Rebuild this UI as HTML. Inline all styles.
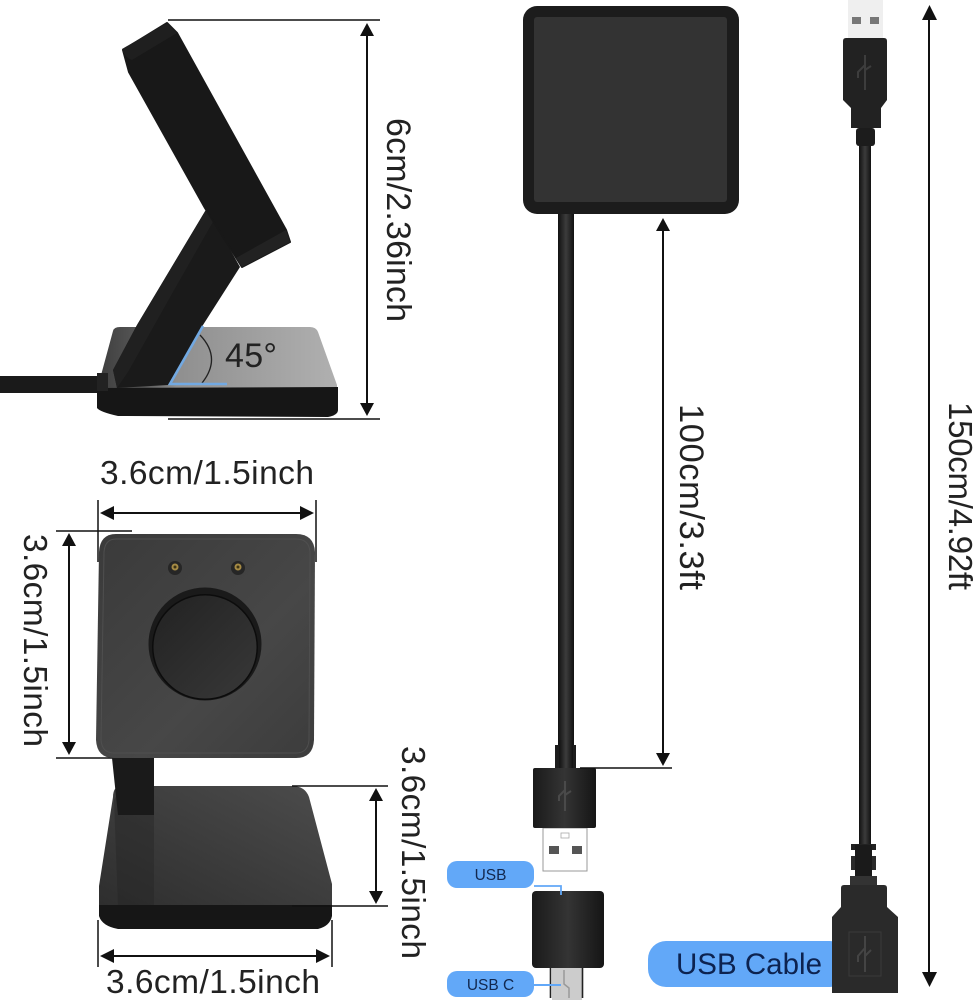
<!DOCTYPE html>
<html><head><meta charset="utf-8"><style>
html,body{margin:0;padding:0;background:#fff}
svg{display:block}
text{font-family:"Liberation Sans",sans-serif;fill:#222}
</style></head><body>
<svg width="979" height="1000" viewBox="0 0 979 1000" xmlns="http://www.w3.org/2000/svg">
<defs>
<linearGradient id="gb" x1="0" x2="1" y1="0" y2="0"><stop offset="0" stop-color="#3d3d3d"/><stop offset=".2" stop-color="#5a5a5a"/><stop offset=".33" stop-color="#8f8f8f"/><stop offset="1" stop-color="#b0b0b0"/></linearGradient>
<linearGradient id="pn" x1="0" x2="1" y1="0" y2="1"><stop offset="0" stop-color="#3a3a3a"/><stop offset=".6" stop-color="#474747"/><stop offset="1" stop-color="#3c3c3c"/></linearGradient>
<linearGradient id="bs" x1="0" x2="1" y1="1" y2="0"><stop offset="0" stop-color="#2e2e2e"/><stop offset="1" stop-color="#4c4c4c"/></linearGradient>
<linearGradient id="cb" x1="0" x2="1" y1="0" y2="0"><stop offset="0" stop-color="#111"/><stop offset=".5" stop-color="#3c3c3c"/><stop offset="1" stop-color="#111"/></linearGradient>
<linearGradient id="pl" x1="0" x2="1" y1="0" y2="0"><stop offset="0" stop-color="#1a1a1a"/><stop offset=".5" stop-color="#343434"/><stop offset="1" stop-color="#151515"/></linearGradient>
<linearGradient id="cir" x1="0" x2="1" y1="0" y2="1"><stop offset="0" stop-color="#222"/><stop offset="1" stop-color="#383838"/></linearGradient>
</defs>

<!-- SIDE VIEW -->
<rect x="0" y="376" width="102" height="17" fill="#1a1a1a"/>
<path d="M113 331Q114 327 120 327H310Q316 327 318 332L337 385V390H97Z" fill="url(#gb)"/>
<path d="M97 388L338 387V410Q338 415 328 417L118 416Q100 412 97 408Z" fill="#161616"/>
<rect x="97" y="373" width="11" height="18" fill="#222"/>
<path d="M207 208L240 267L203 325L168 385L117 388L113 370L137 325Z" fill="#1a1a1a"/>
<path d="M207 208L214 220L173 292L128 372L117 388L113 370L137 325Z" fill="#202020"/>
<path d="M123 50L129 72L205 208L242 267L290 242L286 230L177 33L167 23Z" fill="#181818" stroke="#181818" stroke-width="2" stroke-linejoin="round"/>
<path d="M122 49L167 23L177 33L132 60Q125 58 122 49Z" fill="#1f1f1f"/>
<path d="M236 258L286 230L290 242L242 267Z" fill="#222"/>
<path d="M200 335Q222 358 202 383" fill="none" stroke="#222" stroke-width="1.3"/>
<path d="M203 326L170 384H227" fill="none" stroke="#72a9e2" stroke-width="2.6"/>
<text x="225" y="367" font-size="34" textLength="52">45°</text>
<g stroke="#111" stroke-width="1.5" fill="none"><path d="M168 20H380M168 419H380"/></g>
<path d="M367 30V410" stroke="#111" stroke-width="2"/>
<path d="M367 23L374 36H360ZM367 416L374 403H360Z" fill="#111"/>
<text transform="translate(387 118) rotate(90)" font-size="34" textLength="204">6cm/2.36inch</text>

<!-- FRONT VIEW -->
<text x="100" y="484" font-size="33.500" textLength="214">3.6cm/1.5inch</text>
<path d="M98 500V562M316 500V562M56 531H132M56 758H120" stroke="#111" stroke-width="1.5" fill="none"/>
<path d="M106 513H310" stroke="#111" stroke-width="2"/>
<path d="M100 513L114 506V520ZM314 513L300 506V520Z" fill="#111"/>
<path d="M69 540V750" stroke="#111" stroke-width="2"/>
<path d="M69 533L76 546H62ZM69 755L76 742H62Z" fill="#111"/>
<text transform="translate(24 534) rotate(90)" font-size="33.500" textLength="213">3.6cm/1.5inch</text>

<path d="M113 797Q113 786 122 786H292Q305 786 309 797L332 884V905H99V886Z" fill="url(#bs)"/>
<path d="M120 790H154V906H118L114 800Z" fill="#222" opacity=".4"/>
<path d="M112 758H154V815H118Z" fill="#1a1a1a"/>
<path d="M99 905H332V916Q330 926 318 929H118Q102 926 99 916Z" fill="#161616"/>
<path d="M116 534H296Q314 534 315 552L314 740Q313 758 296 758H114Q97 758 96 740L99 552Q100 534 116 534Z" fill="url(#pn)"/>
<path d="M116 539H296Q309 539 310 552L309 740Q308 753 296 753H114Q102 753 101 740L104 552Q105 539 116 539Z" fill="none" stroke="#4f4f4f" stroke-width="1"/>
<circle cx="205" cy="644" r="56.500" fill="#1a1a1a"/>
<circle cx="205" cy="647" r="53" fill="#0c0c0c"/>
<circle cx="205" cy="647" r="51.500" fill="url(#cir)"/>
<circle cx="175" cy="568" r="7" fill="#262626"/><circle cx="175" cy="567" r="3.500" fill="#a68b45"/><circle cx="175" cy="567" r="1.500" fill="#3d3315"/>
<circle cx="238" cy="568" r="7" fill="#262626"/><circle cx="238" cy="567" r="3.500" fill="#a68b45"/><circle cx="238" cy="567" r="1.500" fill="#3d3315"/>

<path d="M292 786H388M292 906H388M98 920V967M332 920V967" stroke="#111" stroke-width="1.5" fill="none"/>
<path d="M376 795V898" stroke="#111" stroke-width="2"/>
<path d="M376 788L383 801H369ZM376 904L383 891H369Z" fill="#111"/>
<text transform="translate(402 746) rotate(90)" font-size="33.500" textLength="213">3.6cm/1.5inch</text>
<path d="M106 956H324" stroke="#111" stroke-width="2"/>
<path d="M100 956L114 949V963ZM330 956L316 949V963Z" fill="#111"/>
<text x="106" y="993" font-size="33.500" textLength="214">3.6cm/1.5inch</text>

<!-- SQUARE + SHORT CABLE -->
<rect x="558" y="210" width="16" height="540" fill="url(#cb)"/>
<rect x="523" y="6" width="216" height="208" rx="14" fill="#1c1c1c"/>
<rect x="534" y="17" width="193" height="185" rx="3" fill="#333"/>
<rect x="555" y="745" width="21" height="24" fill="#1c1c1c"/>
<rect x="559" y="740" width="14" height="28" fill="url(#cb)"/>
<path d="M543 828H587V871H543Z" fill="#fff" stroke="#999" stroke-width="1"/>
<rect x="561" y="833" width="8" height="5" fill="#fff" stroke="#aaa" stroke-width=".8"/>
<rect x="549" y="846" width="10" height="8" fill="#555"/><rect x="572" y="846" width="10" height="8" fill="#555"/>
<rect x="533" y="768" width="63" height="60" rx="2" fill="url(#pl)"/>
<path d="M565 781V811M565 790L559 796V801M565 795L571 791" stroke="#4a4a4a" stroke-width="2" fill="none"/>
<path d="M580 768H672" stroke="#111" stroke-width="1.5"/>
<path d="M663 224V760" stroke="#111" stroke-width="2"/>
<path d="M663 218L670 231H656ZM663 766L670 753H656Z" fill="#111"/>
<text transform="translate(680 404) rotate(90)" font-size="34.500" textLength="186">100cm/3.3ft</text>

<!-- ADAPTER -->
<rect x="552" y="968" width="30" height="32" fill="#ccc"/>
<path d="M550.500 968V998M582.500 968V998" stroke="#222" stroke-width="1.600"/>
<path d="M564 970V984L569 988V998" stroke="#999" stroke-width="1.500" fill="none"/>
<rect x="532" y="891" width="72" height="77" rx="4" fill="url(#pl)"/>
<rect x="447" y="861" width="87" height="27" rx="10" fill="#62a8f8"/>
<text x="490.500" y="880" font-size="15.500" text-anchor="middle" style="fill:#12284f">USB</text>
<path d="M534 886H561V895" stroke="#62a8f8" stroke-width="1.800" fill="none"/>
<rect x="447" y="971" width="87" height="26" rx="10" fill="#62a8f8"/>
<text x="490.500" y="990" font-size="15.500" text-anchor="middle" style="fill:#12284f">USB C</text>
<path d="M534 985H561" stroke="#62a8f8" stroke-width="2"/>

<!-- LONG CABLE -->
<rect x="848" y="0" width="35" height="39" fill="#efefef"/>
<rect x="852" y="17" width="9" height="7" fill="#777"/><rect x="870" y="17" width="9" height="7" fill="#777"/>
<rect x="859" y="125" width="12" height="725" fill="url(#cb)"/>
<rect x="856" y="128" width="19" height="18" rx="3" fill="#1c1c1c"/>
<path d="M846 38H884Q887 38 887 41V100L881 108V128H851V108L843 100V41Q843 38 846 38Z" fill="#222"/>
<path d="M865 55V90M865 65L858 72V78M865 70L871 66" stroke="#3d3d3d" stroke-width="2" fill="none"/>
<rect x="851" y="844" width="25" height="6" fill="#222"/>
<rect x="851" y="856" width="25" height="14" fill="#2a2a2a"/>
<rect x="855" y="845" width="17" height="40" fill="#1a1a1a"/>
<rect x="850" y="876" width="27" height="9" fill="#333"/>
<rect x="648" y="941" width="200" height="46" rx="18" fill="#62a8f8"/>
<text x="676" y="974" font-size="29.500" textLength="146" style="fill:#0d2350">USB Cable</text>
<path d="M841 888Q841 885 844 885H884Q887 885 887 888V907L898 917V993H832V917L841 907Z" fill="#2a2a2a"/>
<rect x="849" y="932" width="32" height="44" fill="none" stroke="#3a3a3a" stroke-width="1"/>
<path d="M865 936V972M865 948L858 956V962M865 956L871 950" stroke="#444" stroke-width="2" fill="none"/>
<path d="M929 15V978" stroke="#111" stroke-width="2"/>
<path d="M929.500 5L937 20H922ZM929.500 987L937 972H922Z" fill="#111"/>
<text transform="translate(949 402) rotate(90)" font-size="33" textLength="188">150cm/4.92ft</text>
</svg>
</body></html>
